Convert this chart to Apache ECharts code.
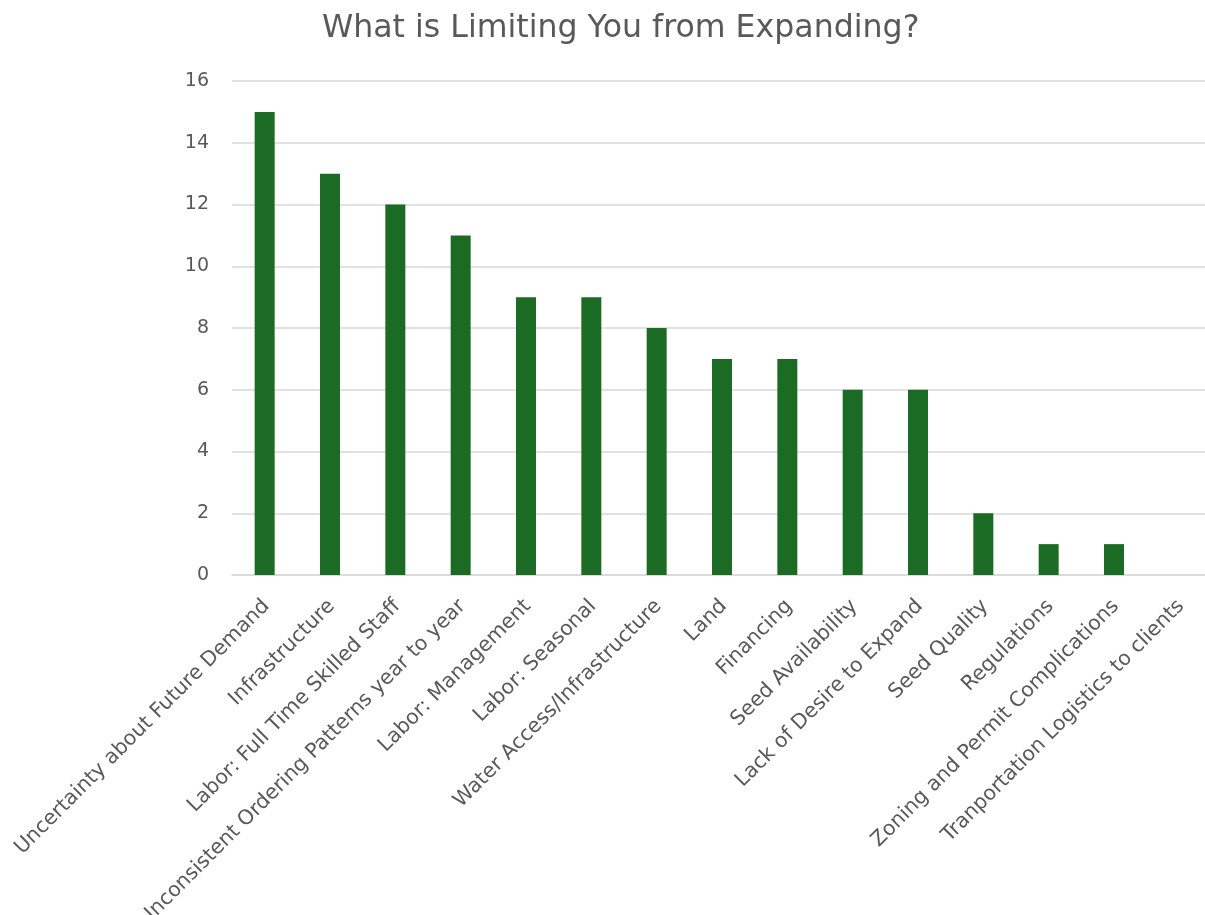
<!DOCTYPE html>
<html>
<head>
<meta charset="utf-8">
<script src="https://cdn.jsdelivr.net/npm/echarts@6/dist/echarts.min.js"></script>
<style>
  html, body { margin: 0; padding: 0; background: #ffffff; }
  #chart { width: 1205px; height: 915px; }
</style>
</head>
<body>
<div id="chart"></div>
<script>
// Survey responses: what limits expansion
const categories = [
  'Uncertainty about Future Demand',
  'Infrastructure',
  'Labor: Full Time Skilled Staff',
  'Inconsistent Ordering Patterns year to year',
  'Labor: Management',
  'Labor: Seasonal',
  'Water Access/Infrastructure',
  'Land',
  'Financing',
  'Seed Availability',
  'Lack of Desire to Expand',
  'Seed Quality',
  'Regulations',
  'Zoning and Permit Complications',
  'Tranportation Logistics to clients'
];
const counts = [15, 13, 12, 11, 9, 9, 8, 7, 7, 6, 6, 2, 1, 1, 0];

const titleText = 'What is Limiting You from Expanding?';
const yMin = 0;
const yMax = 16;
const yStep = 2;

const textColor = '#595959';
const gridColor = '#d9d9d9';
const barColor = '#1c6b25';
const fontFamily = '"DejaVu Sans", "Open Sans", sans-serif';

const chart = echarts.init(document.getElementById('chart'), null, { renderer: 'canvas' });

chart.setOption({
  backgroundColor: '#ffffff',
  animation: false,
  title: {
    text: titleText,
    left: 317,
    top: 8,
    textStyle: {
      color: textColor,
      fontSize: 31.6,
      fontWeight: 'normal',
      fontFamily: fontFamily
    }
  },
  grid: {
    left: 232,
    top: 81,
    width: 980,
    height: 494,
    containLabel: false,
    outerBoundsMode: 'none'
  },
  xAxis: {
    type: 'category',
    data: categories,
    axisTick: { show: false },
    axisLine: { show: true, lineStyle: { color: gridColor, width: 1.5 } },
    axisLabel: {
      interval: 0,
      rotate: 45,
      align: 'right',
      verticalAlign: 'top',
      margin: 15,
      padding: [0, 8, 0, 0],
      color: textColor,
      fontSize: 20.5,
      fontFamily: fontFamily
    }
  },
  yAxis: {
    type: 'value',
    min: yMin,
    max: yMax,
    interval: yStep,
    axisLine: { show: false },
    axisTick: { show: false },
    axisLabel: {
      margin: 23,
      color: textColor,
      fontSize: 19,
      fontFamily: fontFamily
    },
    splitLine: { lineStyle: { color: gridColor, width: 1.5 } }
  },
  series: [{
    type: 'bar',
    data: counts,
    barWidth: 20,
    itemStyle: { color: barColor },
    silent: true
  }]
});
</script>
</body>
</html>
